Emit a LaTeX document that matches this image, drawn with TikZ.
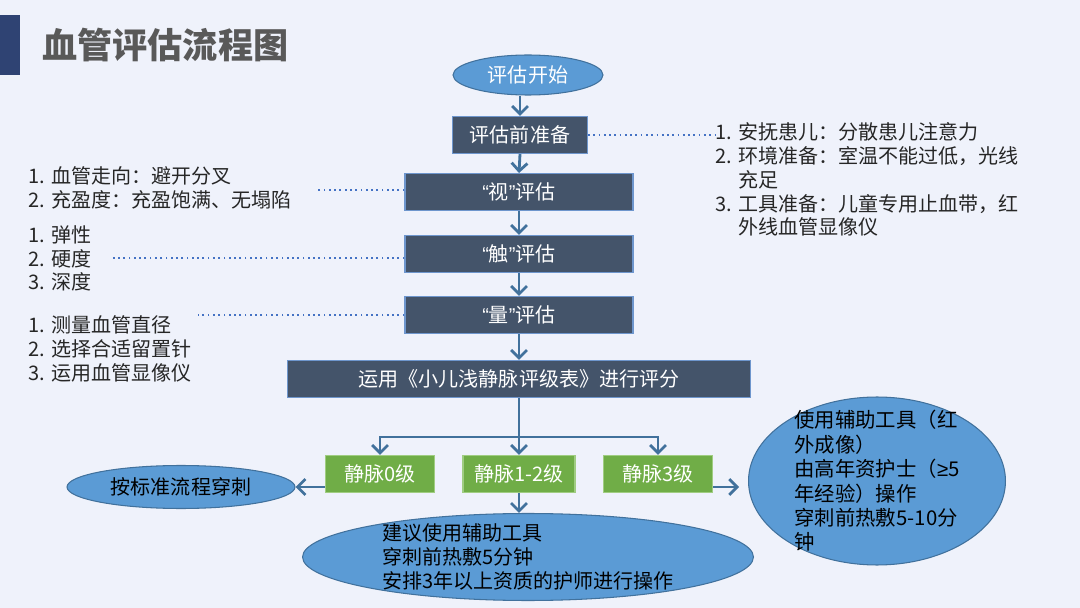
\documentclass[tikz,border=0pt]{standalone}
\usepackage{fontspec}
\setmainfont{Noto Sans CJK SC}
\newfontfamily\quotefont{Liberation Sans}
\usetikzlibrary{shapes.geometric,arrows.meta}
\definecolor{pagebg}{RGB}{239,242,251}
\definecolor{titlebar}{RGB}{47,67,115}
\definecolor{titlegray}{RGB}{89,89,89}
\definecolor{boxfill}{RGB}{68,84,106}
\definecolor{boxedge}{RGB}{110,150,205}
\definecolor{lvlfill}{RGB}{112,173,71}
\definecolor{lvledge}{RGB}{160,205,130}
\definecolor{blobfill}{RGB}{91,155,213}
\definecolor{blobedge}{RGB}{65,113,156}
\definecolor{flowline}{RGB}{65,113,156}
\definecolor{dotline}{RGB}{68,114,196}
\definecolor{notegray}{RGB}{38,38,38}
\newcommand{\notefont}{\fontsize{11.4}{13.6}\selectfont}
\newcommand{\openq}{{\quotefont “}}
\newcommand{\closeq}{{\quotefont ”}}
\tikzset{
  flowbox/.style={draw=boxedge,fill=boxfill,text=white,font=\notefont,minimum height=0.74cm,inner sep=0pt,line width=0.6pt},
  lvlbox/.style={draw=lvledge,fill=lvlfill,text=white,font=\notefont,minimum width=2.18cm,minimum height=0.74cm,inner sep=0pt,line width=0.6pt},
  blob/.style={ellipse,draw=blobedge,fill=blobfill,font=\notefont,inner sep=0pt,line width=0.6pt},
  barb/.tip={Straight Barb[length=4.5pt,width=9pt]},
  flow/.style={draw=flowline,line width=1.6pt,-barb},
  hint/.style={draw=dotline,line width=1pt,dotted},
  note/.style={anchor=north west,align=left,inner sep=0pt,text=notegray,font=\notefont},
  blobtext/.style={align=left,inner sep=0pt,text=black,font=\notefont}
}
\begin{document}
\begin{tikzpicture}[x=0.02cm,y=-0.02cm]
% page and title
\fill[pagebg] (0,0) rectangle (1080,608);
\fill[titlebar] (0,15) rectangle (20,75);
\node[anchor=west,inner sep=0pt,text=titlegray,font=\fontsize{20}{24}\selectfont\bfseries] (title) at (42,45) {血管评估流程图};

% main column
\node[blob,text=white,minimum width=3cm,minimum height=0.8cm] (start) at (528,75) {评估开始};
\node[flowbox,minimum width=2.7cm] (prep) at (520,135) {评估前准备};
\node[flowbox,minimum width=4.56cm] (see) at (519,192) {\openq 视\closeq 评估};
\node[flowbox,minimum width=4.56cm] (touch) at (519,254) {\openq 触\closeq 评估};
\node[flowbox,minimum width=4.56cm] (size) at (519,315) {\openq 量\closeq 评估};
\node[flowbox,minimum width=9.26cm] (score) at (519,379) {运用《小儿浅静脉评级表》进行评分};

% levels
\node[lvlbox] (lvl0) at (380,474) {静脉0级};
\node[lvlbox,minimum width=2.24cm] (lvl12) at (519,474) {静脉1-2级};
\node[lvlbox] (lvl3) at (658,474) {静脉3级};
\coordinate (fork) at (519,437);

% outcomes
\node[blob,text=black,minimum width=4.56cm,minimum height=0.86cm] (left) at (181,487) {按标准流程穿刺};
\node[blob,minimum width=9.02cm,minimum height=1.74cm] (bottom) at (528,557) {};
\node[blobtext] (bottomtext) at (bottom) {建议使用辅助工具\\穿刺前热敷5分钟\\安排3年以上资质的护师进行操作};
\node[blob,minimum width=5.14cm,minimum height=3.36cm] (right) at (877,481) {};
\node[blobtext,font=\fontsize{11.6}{13.9}\selectfont] (righttext) at (right) {使用辅助工具（红\\外成像）\\由高年资护士（{\quotefont ≥}5\\年经验）操作\\穿刺前热敷5-10分\\钟};

% notes
\node[note] (prepnote) at (715,122) {1. 安抚患儿：分散患儿注意力\\2. 环境准备：室温不能过低，光线\\\hphantom{2. }充足\\3. 工具准备：儿童专用止血带，红\\\hphantom{3. }外线血管显像仪};
\node[note] (seenote) at (28,166) {1. 血管走向：避开分叉\\2. 充盈度：充盈饱满、无塌陷};
\node[note] (touchnote) at (28,225) {1. 弹性\\2. 硬度\\3. 深度};
\node[note] (sizenote) at (28,315) {1. 测量血管直径\\2. 选择合适留置针\\3. 运用血管显像仪};
\coordinate (seetip) at (318,190);
\coordinate (touchtip) at (113,258);
\coordinate (sizetip) at (198,315);

% dotted links
\draw[hint] (prep.east) -- (prepnote.west |- prep.east);
\draw[hint] (see.west |- seetip) -- (seetip);
\draw[hint] (touch.west |- touchtip) -- (touchtip);
\draw[hint] (size.west |- sizetip) -- (sizetip);

% arrows
\draw[flow] (start.south -| prep.north) -- (prep.north);
\draw[flow] (prep.south) -- (see.north);
\draw[flow] (see.south) -- (touch.north);
\draw[flow] (touch.south) -- (size.north);
\draw[flow] (size.south) -- (score.north);
\draw[flow] (score.south) -- (lvl12.north);
\draw[flow,barb-barb] (lvl0.north) -- (lvl0.north |- fork) -- (lvl3.north |- fork) -- (lvl3.north);
\draw[flow] (lvl0.west |- left.east) -- (left.east);
\draw[flow,shorten >=5pt] (lvl3.east |- left.east) -- (right.west |- left.east);
\draw[flow] (lvl12.south) -- (lvl12.south |- bottom.north);
\end{tikzpicture}
\end{document}
